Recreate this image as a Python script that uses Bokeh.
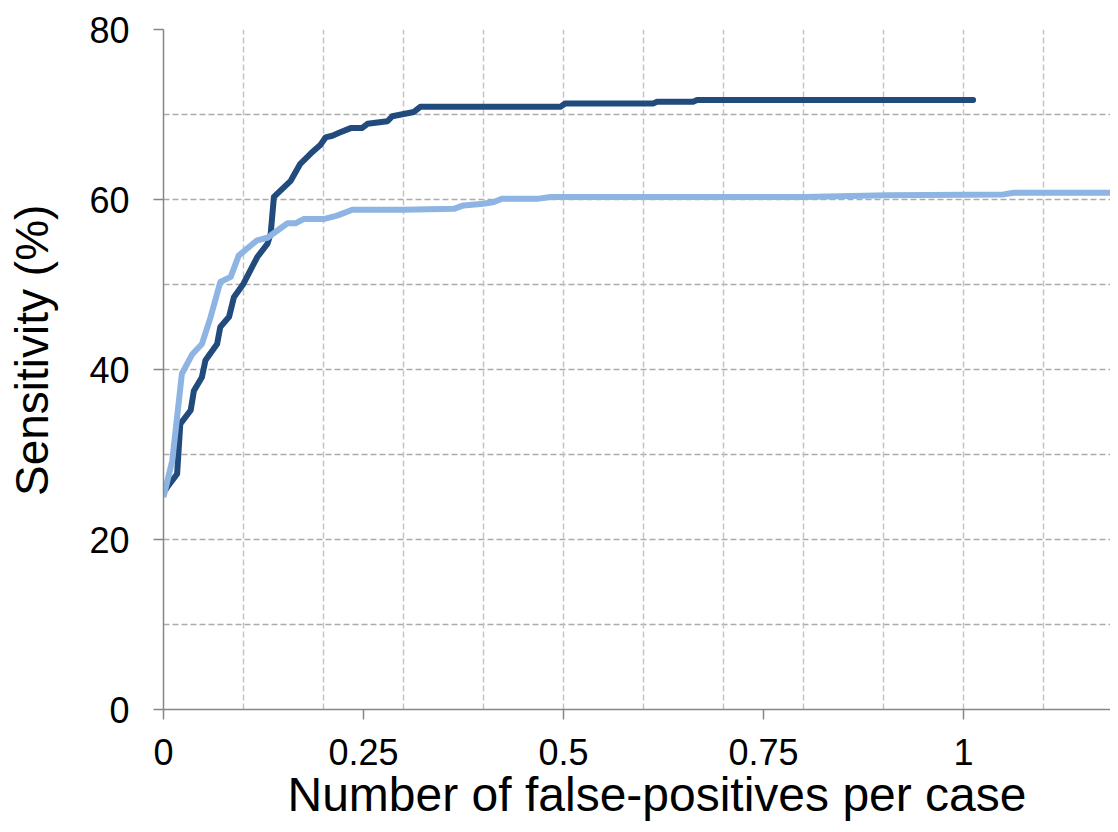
from bokeh.plotting import figure
from bokeh.models import FixedTicker, Grid, Range1d
from bokeh.embed import file_html
from bokeh.resources import INLINE

# ---- data ----
fp_dark = [0, 0.005, 0.017, 0.021, 0.034, 0.038, 0.048, 0.0525, 0.067, 0.071, 0.082, 0.088,
           0.1, 0.117, 0.13, 0.134, 0.138, 0.159, 0.171, 0.184, 0.196, 0.2025, 0.211, 0.221,
           0.234, 0.248, 0.255, 0.28, 0.286, 0.313, 0.321, 0.496, 0.502, 0.612, 0.617, 0.662,
           0.667, 1.012]
sens_dark = [25.5, 26.2, 27.7, 33.6, 35.2, 37.5, 39.1, 41.1, 43.0, 45.0, 46.2, 48.5,
             50.1, 53.2, 54.8, 56.0, 60.3, 62.2, 64.2, 65.4, 66.4, 67.3, 67.5, 67.9,
             68.4, 68.4, 68.9, 69.2, 69.8, 70.3, 70.9, 70.9, 71.3, 71.3, 71.5, 71.5,
             71.7, 71.7]

fp_light = [0, 0.011, 0.023, 0.036, 0.048, 0.059, 0.071, 0.084, 0.094, 0.117, 0.13, 0.155,
            0.165, 0.175, 0.2, 0.217, 0.236, 0.3, 0.363, 0.375, 0.4, 0.413, 0.423, 0.469,
            0.484, 0.546, 0.8, 0.905, 1.05, 1.063, 1.2]
sens_light = [25.0, 29.3, 39.5, 41.8, 43.0, 46.2, 50.3, 50.9, 53.4, 55.2, 55.5, 57.2,
              57.2, 57.7, 57.7, 58.1, 58.8, 58.8, 58.9, 59.3, 59.5, 59.7, 60.1, 60.1,
              60.3, 60.3, 60.3, 60.5, 60.6, 60.8, 60.8]

x_ticks = [0, 0.25, 0.5, 0.75, 1]
x_tick_labels = ["0", "0.25", "0.5", "0.75", "1"]
y_ticks = [0, 20, 40, 60, 80]
y_minor_ticks = [10, 30, 50, 70]
x_grid_values = [0.1, 0.2, 0.3, 0.4, 0.5, 0.6, 0.7, 0.8, 0.9, 1.0, 1.1]

x_label = "Number of false-positives per case"
y_label = "Sensitivity (%)"

FONT = "Liberation Sans"
DARK = "#214B7D"
LIGHT = "#8DB4E2"
AXIS_GRAY = "#868686"
PAD = "\u00a0\u00a0\u00a0"  # shifts centred titles slightly along their axis

p = figure(width=1110, height=824, output_backend="svg", toolbar_location=None,
           x_range=Range1d(0, 1.18375), y_range=Range1d(0, 80),
           min_border_left=163, min_border_right=0, min_border_top=29,
           min_border_bottom=115)
p.outline_line_color = None
p.background_fill_color = "white"
p.border_fill_color = "white"

# grids
p.xgrid.visible = False
vgrid = Grid(dimension=0, ticker=FixedTicker(ticks=x_grid_values),
             grid_line_color="#C4C4C4", grid_line_width=1.5, grid_line_dash="6 3")
p.add_layout(vgrid)

p.yaxis.ticker = FixedTicker(ticks=y_ticks, minor_ticks=y_minor_ticks)
p.ygrid.grid_line_color = "#ABABAB"
p.ygrid.grid_line_width = 1.5
p.ygrid.grid_line_dash = "6 3"
p.ygrid.minor_grid_line_color = "#ABABAB"
p.ygrid.minor_grid_line_width = 1.5
p.ygrid.minor_grid_line_dash = "6 3"

p.xaxis.ticker = FixedTicker(ticks=x_ticks)
p.xaxis.major_label_overrides = {t: l for t, l in zip(x_ticks, x_tick_labels)}

for ax in (p.xaxis, p.yaxis):
    ax.axis_line_color = AXIS_GRAY
    ax.axis_line_width = 1.5
    ax.major_tick_line_color = AXIS_GRAY
    ax.major_tick_line_width = 1.5
    ax.major_tick_out = 10
    ax.major_tick_in = 0
    ax.minor_tick_line_color = None
    ax.major_label_text_font = FONT
    ax.major_label_text_font_size = "36px"
    ax.major_label_text_color = "black"
    ax.axis_label_text_font = FONT
    ax.axis_label_text_font_style = "normal"
    ax.axis_label_text_color = "black"

p.xaxis.axis_label = PAD + x_label
p.yaxis.axis_label = PAD + y_label
p.xaxis.axis_label_text_font_size = "48px"
p.yaxis.axis_label_text_font_size = "46px"
p.xaxis.major_label_standoff = 19
p.xaxis.axis_label_standoff = 0
p.yaxis.major_label_standoff = 24
p.yaxis.axis_label_standoff = 28

p.line(fp_dark, sens_dark, line_color=DARK, line_width=6,
       line_cap="round", line_join="round")
p.line(fp_light, sens_light, line_color=LIGHT, line_width=6,
       line_cap="butt", line_join="round")

open("out.html", "w").write(file_html(p, INLINE))
